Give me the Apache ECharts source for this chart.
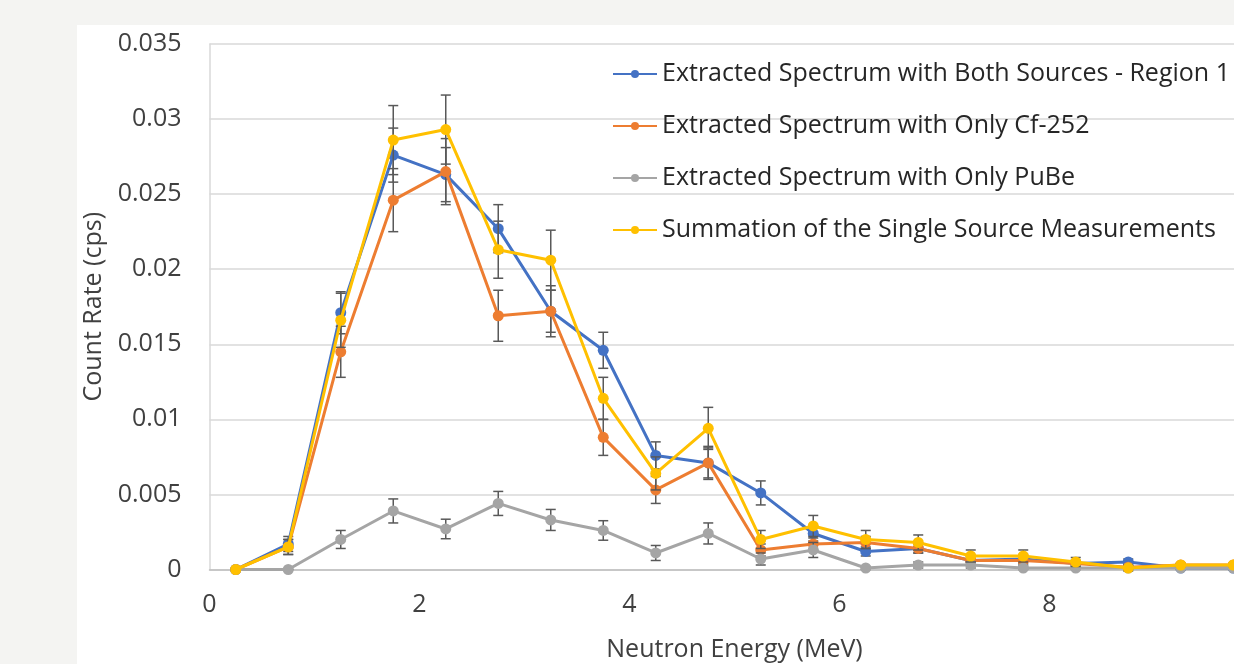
<!DOCTYPE html>
<html>
<head>
<meta charset="utf-8">
<script src="https://cdn.jsdelivr.net/npm/echarts@6/dist/echarts.min.js"></script>
<style>
  body { margin: 0; background: #f4f4f2; }
  #paper { position: absolute; left: 77px; top: 25px; right: 0; bottom: 0; background: #fff; }
  #chart { position: absolute; left: 0; top: 0; width: 1234px; height: 664px; }
</style>
</head>
<body>
<div id="paper"></div>
<div id="chart"></div>
<script>
// neutron energy bin centres (MeV)
var energy = [0.25, 0.75, 1.25, 1.75, 2.25, 2.75, 3.25, 3.75, 4.25, 4.75,
              5.25, 5.75, 6.25, 6.75, 7.25, 7.75, 8.25, 8.75, 9.25, 9.75];

var bothVals = [0, 0.0017, 0.0171, 0.0276, 0.0263, 0.0227, 0.0172, 0.0146, 0.0076, 0.0071,
                0.0051, 0.0024, 0.0012, 0.0014, 0.0006, 0.0007, 0.0004, 0.0005, 0.0001, 0.0001];
var bothErr = [0, 0.0005, 0.0014, 0.0018, 0.0018, 0.0016, 0.0014, 0.0012, 0.0009, 0.001,
               0.0008, 0.0005, 0.0003, 0.0003, 0.0003, 0.0003, 0.0002, 0.0002, 0.0001, 0.0001];

var cfVals = [0, 0.0015, 0.0145, 0.0246, 0.0265, 0.0169, 0.0172, 0.0088, 0.0053, 0.0071,
              0.0013, 0.0017, 0.0018, 0.0014, 0.0006, 0.0006, 0.0004, 0.00015, 0.0003, 0.0003];
var cfErr = [0, 0.0005, 0.0017, 0.0021, 0.0022, 0.0017, 0.0017, 0.0012, 0.0009, 0.0011,
             0.0004, 0.0004, 0.0004, 0.0003, 0.0003, 0.0003, 0.0002, 0.0001, 0.0001, 0.0001];

var pubeVals = [0, 0, 0.002, 0.0039, 0.0027, 0.0044, 0.0033, 0.0026, 0.0011, 0.0024,
                0.0007, 0.0013, 0.0001, 0.0003, 0.0003, 0.0001, 0.0001, 0.0001, 0.0001, 0.0001];
var pubeErr = [0, 0, 0.0006, 0.0008, 0.00065, 0.0008, 0.0007, 0.00065, 0.0005, 0.0007,
               0.0004, 0.0005, 0.0001, 0.0002, 0.0002, 0.0001, 0.0001, 0.0001, 0.0001, 0.0001];

var sumVals = [0, 0.0015, 0.0166, 0.0286, 0.0293, 0.0213, 0.0206, 0.0114, 0.0064, 0.0094,
               0.002, 0.0029, 0.002, 0.0018, 0.0009, 0.0009, 0.0005, 0.0001, 0.0003, 0.0003];
var sumErr = [0, 0.0005, 0.0018, 0.0023, 0.0023, 0.0019, 0.002, 0.0014, 0.0011, 0.0014,
              0.0006, 0.0007, 0.0006, 0.0005, 0.0004, 0.0004, 0.0003, 0.0002, 0.0001, 0.0001];

var names = [
  "Extracted Spectrum with Both Sources - Region 1",
  "Extracted Spectrum with Only Cf-252",
  "Extracted Spectrum with Only PuBe",
  "Summation of the Single Source Measurements"
];
var colors = ["#4472C4", "#ED7D31", "#A5A5A5", "#FFC000"];
var allVals = [bothVals, cfVals, pubeVals, sumVals];
var allErr = [bothErr, cfErr, pubeErr, sumErr];

var FONT = "Open Sans";

function pairs(vals) {
  return energy.map(function (x, i) { return [x, vals[i]]; });
}

function errData(vals, errs) {
  return energy.map(function (x, i) { return [x, vals[i] - errs[i], vals[i] + errs[i]]; });
}

function renderErr(params, api) {
  var lo = api.coord([api.value(0), api.value(1)]);
  var hi = api.coord([api.value(0), api.value(2)]);
  var w = 5;
  var style = { stroke: "#595959", lineWidth: 1.5 };
  return {
    type: "group",
    children: [
      { type: "line", shape: { x1: lo[0], y1: lo[1], x2: hi[0], y2: hi[1] }, style: style },
      { type: "line", shape: { x1: lo[0] - w, y1: lo[1], x2: lo[0] + w, y2: lo[1] }, style: style },
      { type: "line", shape: { x1: hi[0] - w, y1: hi[1], x2: hi[0] + w, y2: hi[1] }, style: style }
    ]
  };
}

var series = [];
for (var k = 0; k < 4; k++) {
  series.push({
    name: "err" + k,
    type: "custom",
    renderItem: renderErr,
    data: errData(allVals[k], allErr[k]),
    z: 1 + k * 2,
    silent: true
  });
  series.push({
    name: names[k],
    type: "line",
    data: pairs(allVals[k]),
    symbol: "circle",
    symbolSize: 11,
    lineStyle: { width: 3, color: colors[k] },
    itemStyle: { color: colors[k] },
    z: 2 + k * 2
  });
}

var myChart = echarts.init(document.getElementById("chart"));

var option = {
  animation: false,
  grid: { left: 209.5, top: 44, width: 1050, bottom: 94.5, outerBoundsMode: "none", containLabel: false },
  legend: {
    data: names,
    orient: "vertical",
    left: 612,
    top: 61,
    padding: 0,
    itemWidth: 44,
    itemHeight: 10,
    itemGap: 26,
    textStyle: { fontFamily: FONT, fontSize: 25, color: "#262626", lineHeight: 26 }
  },
  xAxis: {
    type: "value",
    min: 0,
    max: 10,
    interval: 2,
    name: "Neutron Energy (MeV)",
    nameLocation: "middle",
    nameGap: 68,
    nameTextStyle: { fontFamily: FONT, fontSize: 25, color: "#404040" },
    axisLine: { lineStyle: { color: "#bfbfbf", width: 1.5 } },
    axisTick: { show: false },
    splitLine: { show: false },
    axisLabel: { fontFamily: FONT, fontSize: 25, color: "#404040", margin: 23 }
  },
  yAxis: {
    type: "value",
    min: 0,
    max: 0.035,
    interval: 0.005,
    name: "Count Rate (cps)",
    nameLocation: "middle",
    nameGap: 103,
    nameTextStyle: { fontFamily: FONT, fontSize: 25, color: "#404040" },
    axisLine: { show: true, lineStyle: { color: "#d9d9d9", width: 1.5 } },
    axisTick: { show: false },
    splitLine: { lineStyle: { color: "#d9d9d9", width: 1.5 } },
    axisLabel: { fontFamily: FONT, fontSize: 25, color: "#404040", margin: 28 }
  },
  series: series
};

myChart.setOption(option);
</script>
</body>
</html>
